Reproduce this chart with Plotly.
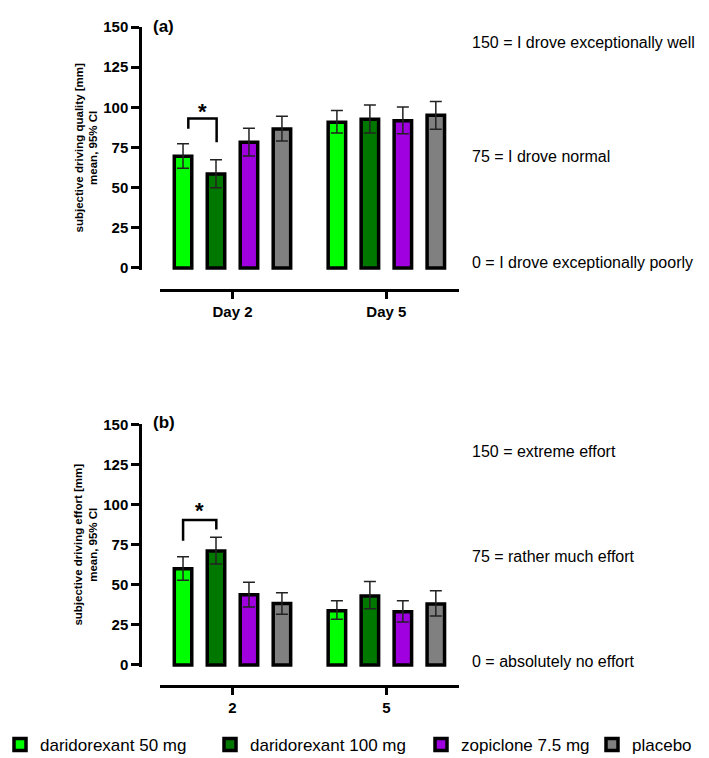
import plotly.graph_objects as go

SERIES = ["daridorexant 50 mg", "daridorexant 100 mg", "zopiclone 7.5 mg", "placebo"]
COLORS = ["#00FF00", "#007800", "#A000E0", "#808080"]
DAYS_A = ["Day 2", "Day 5"]
DAYS_B = ["2", "5"]

# panel (a): subjective driving quality [mm], mean and 95% CI (per series: [day2, day5])
QUALITY_MEAN = [[69.5, 90.7], [58.5, 92.5], [78.3, 91.7], [86.5, 95.0]]
QUALITY_LO = [[62.0, 84.0], [50.0, 84.0], [69.7, 83.5], [79.0, 86.3]]
QUALITY_HI = [[77.3, 98.0], [67.3, 101.4], [87.0, 100.2], [94.4, 103.6]]

# panel (b): subjective driving effort [mm], mean and 95% CI
EFFORT_MEAN = [[60.0, 33.8], [71.0, 43.0], [43.8, 33.2], [38.3, 38.0]]
EFFORT_LO = [[52.8, 28.5], [62.9, 35.1], [36.1, 26.8], [31.6, 30.5]]
EFFORT_HI = [[67.5, 40.0], [79.6, 52.1], [51.5, 40.0], [45.0, 46.3]]

Y_TICKS = [0, 25, 50, 75, 100, 125, 150]

# significance brackets: x-left, x-right (category units), top, left leg end, right leg end, star y
BRACKET_A = [-0.287, -0.103, 93.0, 86.7, 78.3, 97.7]
BRACKET_B = [-0.321, -0.105, 90.3, 77.4, 84.5, 96.0]

RIGHT_TEXT_A = ["150 = I drove exceptionally well", "75 = I drove normal", "0 = I drove exceptionally poorly"]
RIGHT_TEXT_B = ["150 = extreme effort", "75 = rather much effort", "0 = absolutely no effort"]

LEGEND_WIDTHS = [165, 166, 126, 62]

FONT = "Liberation Sans, Arial, sans-serif"
W, H = 709, 758


def py(px):
    return (H - px) / H


def pxx(px):
    return px / W


fig = go.Figure()

for i, name in enumerate(SERIES):
    m = QUALITY_MEAN[i]
    fig.add_trace(go.Bar(
        x=DAYS_A, y=m, name=name, legendgroup=name, showlegend=True,
        legendwidth=LEGEND_WIDTHS[i],
        marker=dict(color=COLORS[i], line=dict(color="black", width=3.5)),
        error_y=dict(type="data", symmetric=False,
                     array=[QUALITY_HI[i][k] - m[k] for k in range(2)],
                     arrayminus=[m[k] - QUALITY_LO[i][k] for k in range(2)],
                     color="#222222", thickness=1.5, width=6),
        xaxis="x", yaxis="y",
    ))
for i, name in enumerate(SERIES):
    m = EFFORT_MEAN[i]
    fig.add_trace(go.Bar(
        x=DAYS_B, y=m, name=name, legendgroup=name, showlegend=False,
        marker=dict(color=COLORS[i], line=dict(color="black", width=3.5)),
        error_y=dict(type="data", symmetric=False,
                     array=[EFFORT_HI[i][k] - m[k] for k in range(2)],
                     arrayminus=[m[k] - EFFORT_LO[i][k] for k in range(2)],
                     color="#222222", thickness=1.5, width=6),
        xaxis="x2", yaxis="y2",
    ))

XDOM = [pxx(160), pxx(459)]
XRANGE = [-0.471, 1.472]
YRANGE = [-1.2, 150]

common_x = dict(type="category", range=XRANGE, domain=XDOM, showline=True, linecolor="black",
                linewidth=2.5, ticks="outside", ticklen=7, tickwidth=2.5, tickcolor="black",
                showgrid=False, zeroline=False, anchor="free",
                tickfont=dict(family=FONT, size=15, color="black", weight="bold"))
common_y = dict(range=YRANGE, showline=True, linecolor="black", linewidth=2.5, ticks="outside",
                ticklen=8, tickwidth=2.5, tickcolor="black", showgrid=False, zeroline=False,
                tickvals=Y_TICKS, anchor="free", position=pxx(140),
                tickfont=dict(family=FONT, size=15, color="black", weight="bold"))

fig.update_layout(
    width=W, height=H, margin=dict(l=0, r=0, t=0, b=0, autoexpand=False),
    paper_bgcolor="white", plot_bgcolor="white",
    barmode="group", bargap=0.143, bargroupgap=0.47,
    font=dict(family=FONT, color="black"),
    xaxis=dict(common_x, position=py(290)),
    yaxis=dict(common_y, domain=[py(269.9), py(27)]),
    xaxis2=dict(common_x, position=py(686)),
    yaxis2=dict(common_y, domain=[py(666.9), py(424.3)]),
    legend=dict(orientation="h", x=0.0, xanchor="left", y=py(745), yanchor="middle",
                font=dict(family=FONT, size=17, color="black"), itemwidth=30,
                bgcolor="rgba(0,0,0,0)", borderwidth=0),
    showlegend=True,
)

shapes = []
annotations = []
for br, xr, yr in [(BRACKET_A, "x", "y"), (BRACKET_B, "x2", "y2")]:
    xl, xrgt, top, ll, rl, star = br
    shapes.append(dict(type="path", xref=xr, yref=yr,
                       path=f"M {xl} {ll} L {xl} {top} L {xrgt} {top} L {xrgt} {rl}",
                       line=dict(color="black", width=2.5)))
    annotations.append(dict(x=(xl + xrgt) / 2, y=star, xref=xr, yref=yr, text="<b>*</b>",
                            showarrow=False, xanchor="center", yanchor="middle",
                            font=dict(family=FONT, size=22, color="black")))

for texts, ys in [(RIGHT_TEXT_A, [42.3, 156.7, 262.3]), (RIGHT_TEXT_B, [451.7, 556.7, 661.7])]:
    for t, yy in zip(texts, ys):
        annotations.append(dict(x=pxx(469.5), y=py(yy), xref="paper", yref="paper", text=t,
                                showarrow=False, xanchor="left", yanchor="middle",
                                font=dict(family=FONT, size=16, color="black")))

for lab, yy in [("(a)", 26.7), ("(b)", 423)]:
    annotations.append(dict(x=pxx(150.5), y=py(yy), xref="paper", yref="paper", text=f"<b>{lab}</b>",
                            showarrow=False, xanchor="left", yanchor="middle",
                            font=dict(family=FONT, size=17, color="black")))

for t, yy in [("subjective driving quality [mm]<br>mean, 95% CI", 147.5),
              ("subjective driving effort [mm]<br>mean, 95% CI", 544.6)]:
    annotations.append(dict(x=pxx(86), y=py(yy), xref="paper", yref="paper", text=f"<b>{t}</b>",
                            showarrow=False, xanchor="center", yanchor="middle", textangle=-90,
                            font=dict(family=FONT, size=11.5, color="black")))

fig.update_layout(shapes=shapes, annotations=annotations)
fig.write_html("out.html", config={"displayModeBar": False},
               post_script="document.body.style.margin='0px';")
